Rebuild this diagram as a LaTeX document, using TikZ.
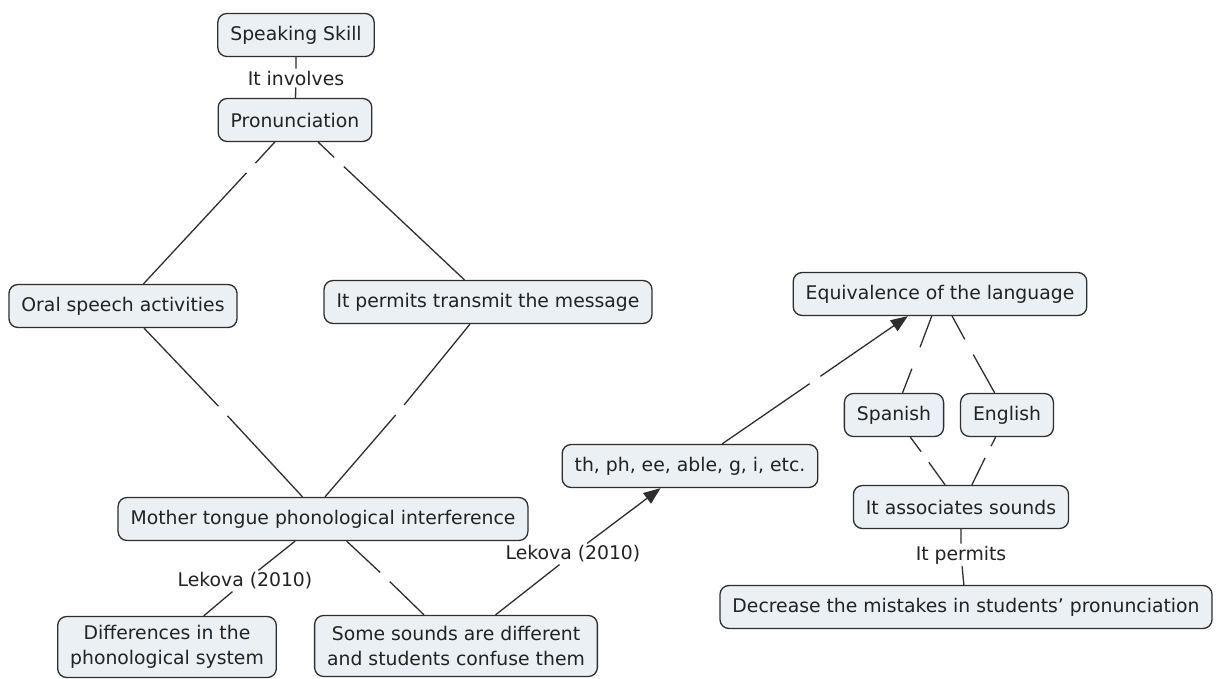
\documentclass[tikz,border=0pt]{standalone}
\usepackage{fontspec}
\setmainfont{DejaVu Sans}
\usepackage{xcolor}
\usepackage{tikz}
\usetikzlibrary{arrows.meta}
\definecolor{cfill}{HTML}{EAF0F4}
\definecolor{cline}{HTML}{2E2E2E}
\definecolor{ctext}{HTML}{222222}

\begin{document}
\begin{tikzpicture}[x=1pt,y=-1pt,
    every node/.style={font=\fontsize{18.8}{25}\selectfont,text=ctext},
    concept/.style={draw=cline,fill=cfill,rounded corners=9pt,line width=1.3pt,
                    inner xsep=12.5pt,inner ysep=0pt,minimum height=43pt,align=center},
    phrase/.style={inner sep=2pt},
    blank/.style={circle,inner sep=4.5pt},
    link/.style={draw=cline,line width=1.3pt},
    tip/.style={-{Triangle[length=17pt,width=13pt]}}]
  \useasboundingbox (0,0) rectangle (1219,679);
  \node[concept] (skill) at (296,35) {Speaking Skill};
  \node[phrase] (involves) at (296,78) {It involves};
  \node[concept] (pron) at (295,120) {Pronunciation};
  \node[concept] (oral) at (123,306) {Oral speech activities};
  \node[concept] (transmit) at (488,302) {It permits transmit the message};
  \node[concept] (mother) at (323,519) {Mother tongue phonological interference};
  \node[phrase] (lekA) at (245,581) {Lekova (2010)};
  \node[concept,minimum height=61pt] (diff) at (167,647) {Differences in the\\phonological system};
  \node[concept,minimum height=61pt] (some) at (456,646) {Some sounds are different\\and students confuse them};
  \node[phrase] (lekB) at (573,554) {Lekova (2010)};
  \node[concept] (sounds) at (690,466) {th, ph, ee, able, g, i, etc.};
  \node[concept] (equiv) at (940,294) {Equivalence of the language};
  \node[concept] (spanish) at (894,415) {Spanish};
  \node[concept] (english) at (1007,415) {English};
  \node[concept] (assoc) at (961,507) {It associates sounds};
  \node[phrase] (permits) at (961,555) {It permits};
  \node[concept] (decrease) at (966,607) {Decrease the mistakes in students’ pronunciation};
  \node[blank] (g1) at (251,168) {};
  \node[blank] (g2) at (339,162) {};
  \node[blank] (g3) at (223,411) {};
  \node[blank] (g4) at (400,410) {};
  \node[blank] (g5) at (385,577) {};
  \node[blank] (g6) at (815,380) {};
  \node[blank,inner sep=8pt] (g7) at (916,358) {};
  \node[blank,inner sep=6pt] (g8) at (969,347) {};
  \node[blank] (g9) at (925,457) {};
  \node[blank] (g10) at (988,452) {};
  \coordinate (motherin) at ([xshift=2pt]mother.north);
  \draw[link] (skill) -- (involves) -- (pron);
  \draw[link] (pron) -- (g1) (g1) -- (oral);
  \draw[link] (pron) -- (g2) (g2) -- (transmit);
  \draw[link] (oral) -- (g3) (g3) -- (mother);
  \draw[link] (transmit) -- (g4) (g4) -- (motherin);
  \draw[link] (mother) -- (lekA) -- (diff);
  \draw[link] (mother) -- (g5) (g5) -- (some);
  \draw[link] (some) -- (lekB);
  \draw[link,tip] (lekB) -- (sounds);
  \draw[link] (sounds) -- (g6);
  \draw[link,tip] (g6) -- (equiv);
  \draw[link] (equiv) -- (g7) (g7) -- (spanish);
  \draw[link] (equiv) -- (g8) (g8) -- (english);
  \draw[link] (spanish) -- (g9) (g9) -- (assoc);
  \draw[link] (english) -- (g10) (g10) -- (assoc);
  \draw[link] (assoc) -- (permits) -- (decrease);
\end{tikzpicture}
\end{document}
